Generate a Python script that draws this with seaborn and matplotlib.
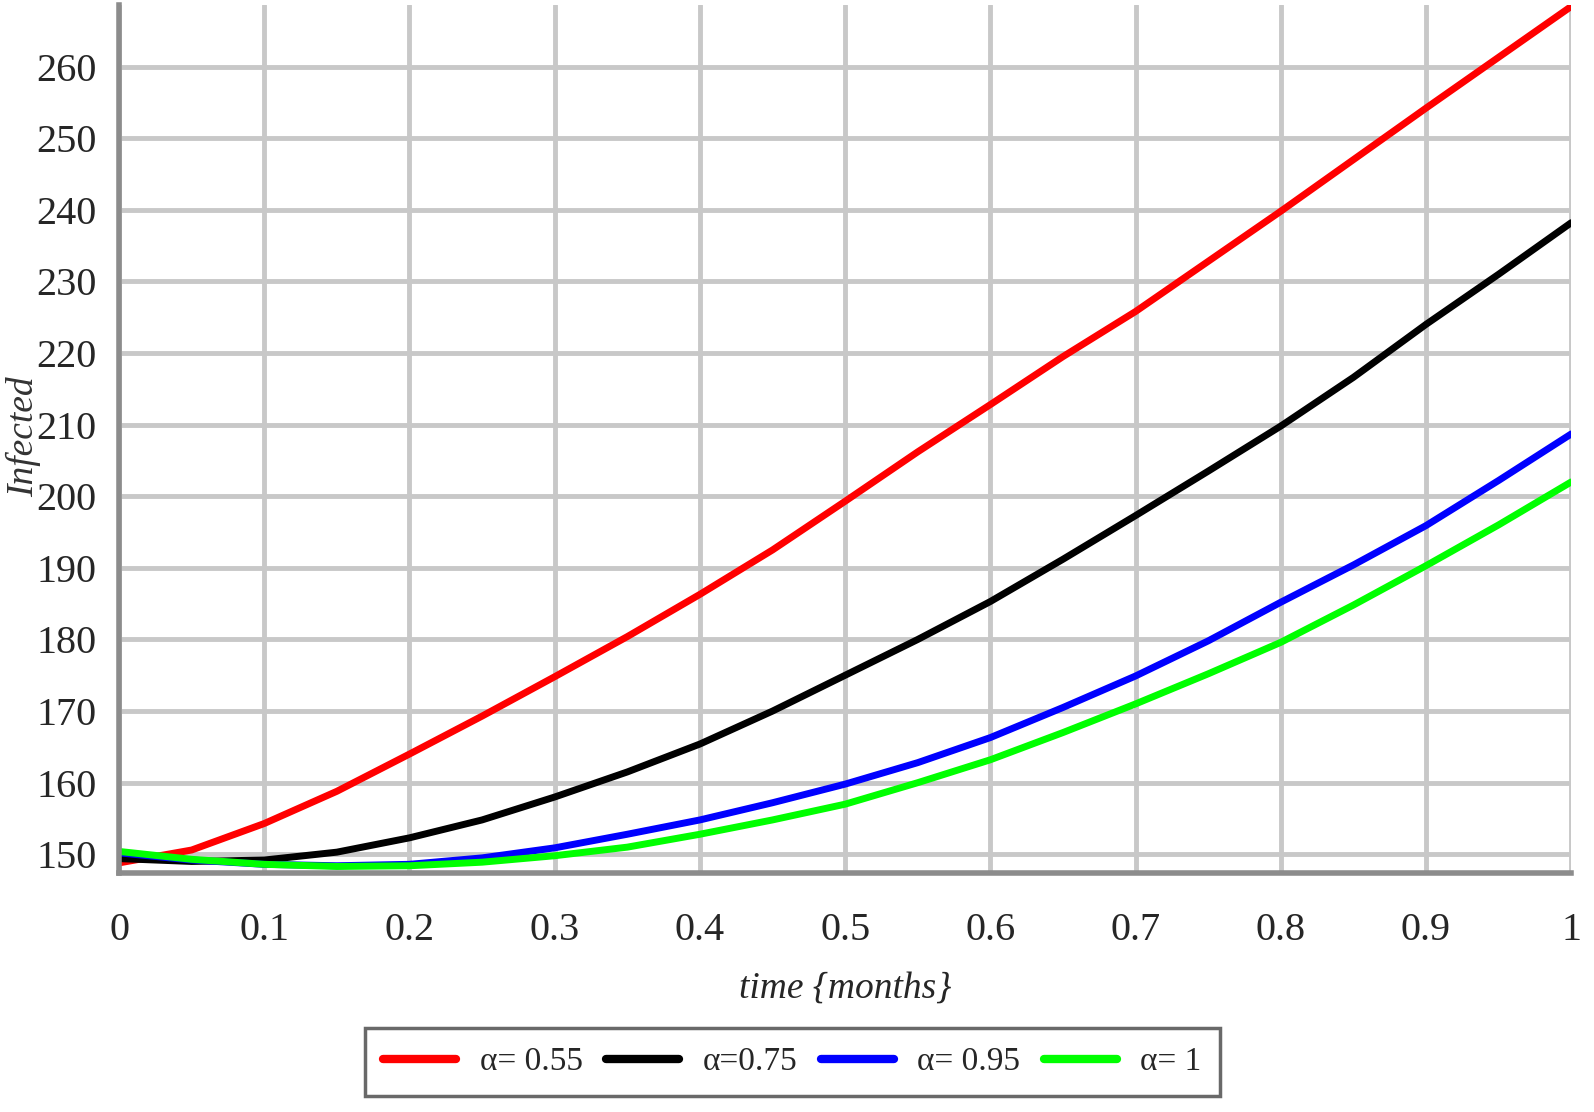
import numpy as np
import pandas as pd
import seaborn as sns
import matplotlib.pyplot as plt

# time in months
t = [0, 0.05, 0.1, 0.15, 0.2, 0.25, 0.3, 0.35, 0.4, 0.45, 0.5,
     0.55, 0.6, 0.65, 0.7, 0.75, 0.8, 0.85, 0.9, 0.95, 1.0]

# infected
inf_055 = [148.8, 150.6, 154.3, 158.8, 164.0, 169.3, 174.8, 180.4, 186.3, 192.5, 199.3,
           206.2, 212.8, 219.5, 225.8, 232.8, 239.8, 247.0, 254.2, 261.3, 268.4]
inf_075 = [149.4, 149.0, 149.2, 150.3, 152.3, 154.8, 158.0, 161.5, 165.4, 170.0, 175.0,
           180.0, 185.3, 191.2, 197.3, 203.5, 209.8, 216.6, 224.0, 231.0, 238.2]
inf_095 = [150.2, 149.2, 148.6, 148.4, 148.6, 149.5, 150.9, 152.8, 154.8, 157.2, 159.8,
           162.8, 166.3, 170.5, 174.9, 179.8, 185.2, 190.4, 195.9, 202.2, 208.7]
inf_1 = [150.4, 149.3, 148.6, 148.3, 148.4, 148.9, 149.8, 151.0, 152.8, 154.8, 157.0,
         160.0, 163.2, 167.0, 171.0, 175.2, 179.6, 184.8, 190.3, 196.0, 202.0]

labels = ["α= 0.55", "α=0.75", "α= 0.95", "α= 1"]
colors = ["#ff0000", "#000000", "#0000ff", "#00ff00"]

x_ticks = [0, 0.1, 0.2, 0.3, 0.4, 0.5, 0.6, 0.7, 0.8, 0.9, 1]
x_ticklabels = ["0", "0.1", "0.2", "0.3", "0.4", "0.5", "0.6", "0.7", "0.8", "0.9", "1"]
y_ticks = list(range(150, 261, 10))

frames = []
for lab, vals in zip(labels, [inf_055, inf_075, inf_095, inf_1]):
    frames.append(pd.DataFrame({"time": t, "Infected": vals, "alpha": lab}))
df = pd.concat(frames, ignore_index=True)

sns.set_style("white")
plt.rcParams['font.family'] = ['Liberation Serif', 'DejaVu Serif']

fig = plt.figure(figsize=(15.94, 11.12), dpi=100)
ax = fig.add_axes([0.0747, 0.215, 0.911, 0.7805])

sns.lineplot(data=df, x="time", y="Infected", hue="alpha", hue_order=labels,
             palette=dict(zip(labels, colors)), linewidth=5, ax=ax, legend=False)

ax.set_xlim(0, 1)
ax.set_ylim(147.4, 268.6)
ax.set_xticks(x_ticks)
ax.set_xticklabels(x_ticklabels)
ax.set_yticks(y_ticks)
ax.grid(True, color="#c8c8c8", linewidth=3.5)
ax.set_axisbelow(True)

for side in ["top", "right"]:
    ax.spines[side].set_visible(False)
for side in ["left", "bottom"]:
    ax.spines[side].set_color("#8c8c8c")
    ax.spines[side].set_linewidth(4)

ax.tick_params(axis="both", direction="out", length=10, width=2, color="#222222",
               labelsize=29)
ax.tick_params(axis="x", pad=18)
ax.tick_params(axis="y", pad=6)

ax.set_xlabel("time {months}", fontsize=27, style="italic", labelpad=16)
ax.set_ylabel("")
fig.text(0.015, 0.607, "Infected", fontsize=27, style="italic", rotation=90,
         ha="center", va="center", color="#333333")

handles = [plt.Line2D([], [], color=c, linewidth=6) for c in colors]
leg = fig.legend(handles, labels, loc="center", bbox_to_anchor=(0.497, 0.045), ncol=4,
                 fontsize=24, frameon=True, fancybox=False, handlelength=2.2,
                 columnspacing=0.7, handletextpad=0.7, borderpad=0.55)
leg.get_frame().set_edgecolor("#444444")
leg.get_frame().set_linewidth(2.5)

fig.savefig("out.png", dpi=100)
